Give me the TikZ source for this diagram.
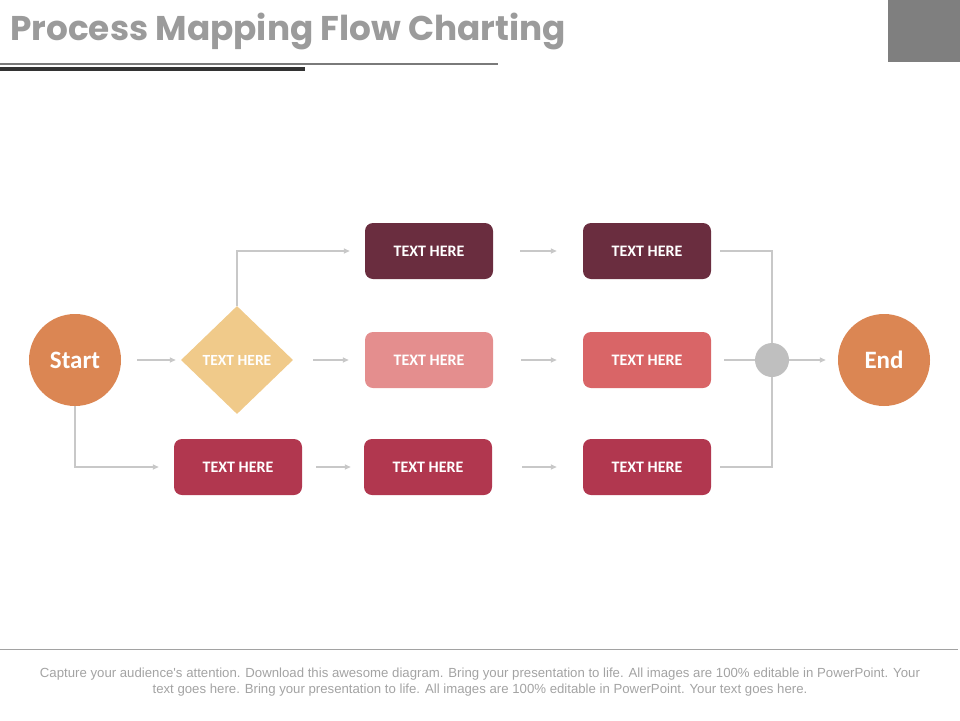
\documentclass[tikz,border=0pt]{standalone}
\usepackage{fontspec}
\setmainfont{Carlito}
\newfontfamily\titlefont{Poppins}
\newfontfamily\notefont{Liberation Sans}
\usetikzlibrary{positioning}
\usetikzlibrary{calc}
\usetikzlibrary{arrows.meta,shapes.geometric}

\definecolor{titlegray}{HTML}{9B9B9B}
\definecolor{cornergray}{HTML}{7F7F7F}
\definecolor{rulegray}{HTML}{7A7A7A}
\definecolor{ruledark}{HTML}{333333}
\definecolor{linegray}{HTML}{C8C8C8}
\definecolor{dotgray}{HTML}{BFBFBF}
\definecolor{endorange}{HTML}{DB8653}
\definecolor{sand}{HTML}{F0CA8A}
\definecolor{maroon}{HTML}{6A2D3F}
\definecolor{rosepink}{HTML}{E48E8E}
\definecolor{coral}{HTML}{D96567}
\definecolor{crimson}{HTML}{B1374F}
\definecolor{notegray}{HTML}{A3A3A3}

\begin{document}
\begin{tikzpicture}[x=1pt,y=-1pt,
    box/.style={rounded corners=8pt,minimum width=128pt,minimum height=56pt,inner sep=0,
      text=white,font=\bfseries\fontsize{16}{18}\selectfont},
    ends/.style={circle,minimum size=92pt,inner sep=0,fill=endorange,text=white,
      font=\bfseries\fontsize{25}{28}\selectfont},
    link/.style={draw=linegray,line width=1.5pt,-{Triangle[length=6pt,width=5pt]}},
    wire/.style={draw=linegray,line width=1.5pt}]
            \useasboundingbox (0,0) rectangle (960,720);

            % heading
            \node[anchor=base west,inner sep=0,text=titlegray,
              font=\titlefont\bfseries\fontsize{34.3}{38}\selectfont] (title) at (10,40) {Process Mapping Flow Charting};
            \fill[cornergray] (888,0) rectangle (960,62);
            \draw[line width=1.5pt,rulegray] (0,64) -- (498,64);
            \draw[line width=4pt,ruledark] (0,69) -- (305,69);

            % steps
            \node[ends] (start) at (75,360) {Start};
            \node[diamond,minimum width=112pt,minimum height=108pt,inner sep=0,fill=sand,text=white,
              font=\bfseries\fontsize{15.5}{18}\selectfont] (decide) at (237,360) {TEXT HERE};
            \node[box,fill=maroon] (top1) at (429,251) {TEXT HERE};
            \node[box,fill=maroon] (top2) at (647,251) {TEXT HERE};
            \node[box,fill=rosepink] (mid1) at (429,360) {TEXT HERE};
            \node[box,fill=coral] (mid2) at (647,360) {TEXT HERE};
            \node[box,fill=crimson] (low1) at (238,467) {TEXT HERE};
            \node[box,fill=crimson] (low2) at (428,467) {TEXT HERE};
            \node[box,fill=crimson] (low3) at (647,467) {TEXT HERE};
            \node[circle,minimum size=34pt,inner sep=0,fill=dotgray] (join) at (772,360) {};
            \node[ends] (finish) at (884,360) {End};

            % connectors
            \draw[link,shorten <=16pt,shorten >=5pt] (start.east) -- (decide.west);
            \draw[link] (decide.north) |- ([xshift=-15pt]top1.west);
            \draw[link,shorten <=20pt,shorten >=16pt] (decide.east) -- (mid1.west);
            \draw[link] (start.south) |- ([xshift=-15pt]low1.west);
            \draw[link,shorten <=27pt,shorten >=26pt] (top1.east) -- (top2.west);
            \draw[link,shorten <=28pt,shorten >=26pt] (mid1.east) -- (mid2.west);
            \draw[link,shorten <=14pt,shorten >=13pt] (low1.east) -- (low2.west);
            \draw[link,shorten <=30pt,shorten >=26pt] (low2.east) -- (low3.west);
            \draw[wire] ([xshift=9pt]top2.east) -| (join.north);
            \draw[wire] ([xshift=9pt]low3.east) -| (join.south);
            \draw[wire] ([xshift=13pt]mid2.east) -- (join.west);
            \draw[link,shorten >=12pt] (join.east) -- (finish.west);

            % footer
            \draw[line width=1pt,rulegray!70] (0,649) -- (958,649);
            \node[align=center,text=notegray,font=\notefont\fontsize{13.2}{16.5}\selectfont] (note) at (480,682)
              {Capture your audience's attention. Download this awesome diagram. Bring your presentation to life. All images are 100\% editable in PowerPoint. Your\\
               text goes here. Bring your presentation to life. All images are 100\% editable in PowerPoint. Your text goes here.};
        \end{tikzpicture}
\end{document}
